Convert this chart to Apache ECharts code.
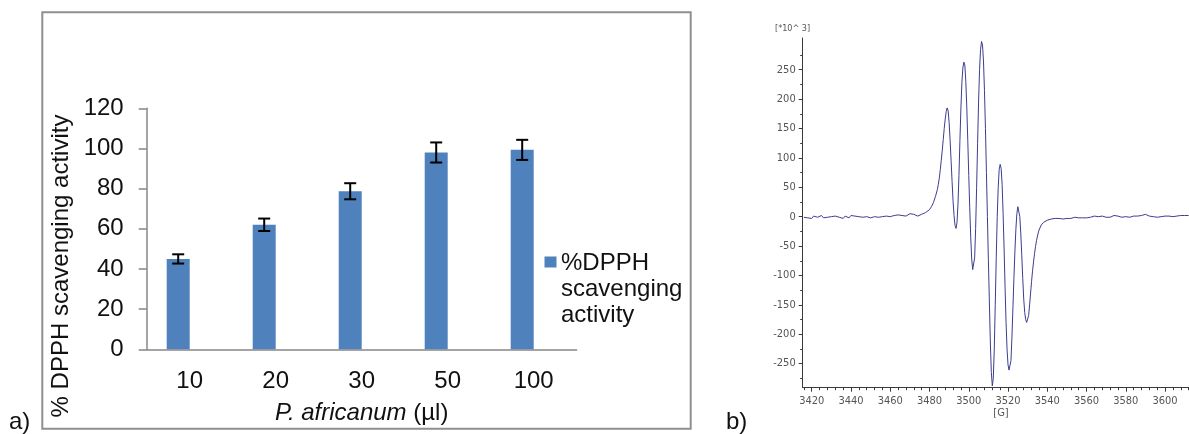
<!DOCTYPE html>
<html>
<head>
<meta charset="utf-8">
<script src="https://cdn.jsdelivr.net/npm/echarts@6/dist/echarts.min.js"></script>
<style>
  html, body { margin: 0; padding: 0; background: #fff; }
  #chart { width: 1189px; height: 434px; }
</style>
</head>
<body>
<div id="chart"></div>
<script>
// ---- Panel a: DPPH radical scavenging by P. africanum extract ----
const doses = ['10', '20', '30', '50', '100'];
const scavenging = [45, 62, 78.7, 98, 99.3];
const scavengingErr = [2.3, 3.1, 4, 5, 5];
const seriesName = '%DPPH scavenging activity';

// ---- Panel b: EPR spectrum (field in G, intensity in 10^3 units) ----
const lowFieldStart = 3416;   // 1 G steps
const lowFieldBaseline = [
  -1, 2, -2, 0, -3, 1, 2, -1, 0, 2,
  -2, 1, -1, 2, 0, -2, 1, 2, -1, 0,
  -3, 1, 0, -2, 2, -1, 1, -2, 0, 2,
  -1, -3, 0, 1, -2, -1, 0, 2, -1, 1,
  0, -2, 1, 3, 0, -1, 2, 1, 3, 0,
  2, 4, 1, 3, 5, 2, 4, 3, 1, 4
];
const spectrumField = [
  3476, 3477, 3478, 3479, 3480, 3481, 3482, 3483, 3484, 3484.5,
  3485, 3485.5, 3486, 3486.5, 3487, 3487.5, 3488, 3488.5, 3489, 3489.5,
  3490, 3490.5, 3491, 3491.5, 3492, 3492.5, 3493, 3493.5, 3494, 3494.5,
  3495, 3495.5, 3496, 3496.5, 3497, 3497.5, 3498, 3498.5, 3499, 3499.5,
  3500, 3500.5, 3501, 3501.5, 3502, 3502.5, 3503, 3503.5, 3504, 3504.5,
  3505, 3505.5, 3506, 3506.5, 3507, 3507.5, 3508, 3508.5, 3509, 3509.5,
  3510, 3510.5, 3511, 3511.5, 3512, 3512.5, 3513, 3513.5, 3514, 3514.5,
  3515, 3515.5, 3516, 3516.5, 3517, 3517.5, 3518, 3518.5, 3519, 3519.5,
  3520, 3520.5, 3521, 3521.5, 3522, 3522.5, 3523, 3523.5, 3524, 3524.5,
  3525, 3525.5, 3526, 3526.5, 3527, 3527.5, 3528, 3528.5, 3529, 3529.5,
  3530, 3530.5, 3531, 3531.5, 3532, 3532.5, 3533, 3533.5, 3534, 3534.5,
  3535, 3535.5, 3536, 3537, 3538, 3539, 3540, 3541, 3542, 3543,
  3544, 3545
];
const spectrumSignal = [
  4, 5, 7, 9, 12, 17, 24, 34, 46, 55,
  66, 80, 96, 113, 131, 150, 166, 179, 185, 180,
  160, 130, 95, 60, 27, 2, -15, -20, -10, 20,
  70, 130, 185, 228, 253, 263, 258, 230, 185, 130,
  70, 15, -35, -72, -90, -92, -70, -20, 50, 125,
  195, 250, 284, 298, 292, 265, 215, 150, 75, 0,
  -75, -145, -215, -265, -288, -275, -225, -150, -70, 0,
  50, 80, 89, 82, 55, 5, -55, -120, -180, -225,
  -252, -261, -261, -245, -205, -155, -105, -60, -22, 5,
  17, 16, 0, -28, -65, -105, -140, -163, -175, -180,
  -178, -168, -150, -130, -110, -92, -77, -63, -51, -41,
  -33, -26, -21, -14, -10, -8, -6, -5, -4, -3,
  -3, -2
];
const highFieldStart = 3546;  // 1 G steps
const highFieldBaseline = [
  -3, -2, -4, -2, -3, -1, -3, -2, -1, -3,
  -2, 0, -2, -1, -2, 0, -1, -2, 1, -1,
  0, -2, 1, 0, -1, 1, -1, 0, 2, -1,
  1, 0, -1, 1, 0, 2, -1, 0, 1, -1,
  1, 0, 2, 0, 4, 3, 1, 2, 0, 2,
  -1, 1, 0, 2, 1, -1, 1, 2, 0, 2,
  1, 3, 2, 1, 2, 3, 2
];
const fieldLabels = [3420, 3440, 3460, 3480, 3500, 3520, 3540, 3560, 3580, 3600];
const intensityLabels = [-250, -200, -150, -100, -50, 0, 50, 100, 150, 200, 250];

// Assemble the spectrum as [field, intensity] pairs
const spectrum = [];
lowFieldBaseline.forEach((v, i) => spectrum.push([lowFieldStart + i, v]));
spectrumField.forEach((g, i) => spectrum.push([g, spectrumSignal[i]]));
highFieldBaseline.forEach((v, i) => spectrum.push([highFieldStart + i, v]));

// Minor tick positions for the EPR axes
const fieldMinor = [];
for (let g = 3416; g <= 3612; g += 4) if (!fieldLabels.includes(g)) fieldMinor.push(g);
const intensityMinor = [];
for (let v = -275; v <= 300; v += 50) intensityMinor.push(v);

const FONT = "'Liberation Sans', Arial, sans-serif";
const NARROW = "'Liberation Sans Narrow', 'DejaVu Sans Condensed', 'Liberation Sans', sans-serif";
const BAR_W = 23;
const AXIS_GREY = '#878787';
const EPR_AXIS = '#3a3a3a';
const plain = v => String(v);

const chart = echarts.init(document.getElementById('chart'), null, { renderer: 'canvas' });

chart.setOption({
  animation: false,
  backgroundColor: '#fff',
  grid: [
    { left: 146.7, top: 108.3, width: 430, height: 241 },
    { left: 802.7, top: 38, right: 0, height: 349.7 }
  ],
  xAxis: [
    {
      gridIndex: 0, type: 'category', data: doses,
      axisLine: { lineStyle: { color: AXIS_GREY, width: 1.5 } },
      axisTick: { show: false },
      axisLabel: { fontFamily: FONT, fontSize: 24, color: '#111', margin: 20 },
      name: '{i|P. africanum} (µl)',
      nameLocation: 'middle', nameGap: 52,
      nameTextStyle: {
        fontFamily: FONT, fontSize: 24, color: '#111',
        rich: { i: { fontFamily: FONT, fontSize: 24, fontStyle: 'italic', color: '#111' } }
      }
    },
    {
      gridIndex: 1, type: 'value', min: 3415.4, max: 3612.2,
      axisLine: { onZero: false, lineStyle: { color: EPR_AXIS, width: 1 } },
      axisTick: { customValues: fieldLabels, length: 4, lineStyle: { color: EPR_AXIS } },
      axisLabel: { customValues: fieldLabels, formatter: plain, fontFamily: NARROW, fontSize: 11, color: '#555', margin: 8 },
      splitLine: { show: false }
    },
    {
      gridIndex: 1, type: 'value', min: 3415.4, max: 3612.2, position: 'bottom',
      axisLine: { show: false, onZero: false },
      axisTick: { customValues: fieldMinor, length: 2.5, lineStyle: { color: EPR_AXIS } },
      axisLabel: { show: false },
      splitLine: { show: false }
    }
  ],
  yAxis: [
    {
      gridIndex: 0, type: 'value', min: 0, max: 120, interval: 20,
      axisLine: { show: true, lineStyle: { color: AXIS_GREY, width: 1.5 } },
      axisTick: { show: true, length: 8, lineStyle: { color: AXIS_GREY, width: 1.5 } },
      axisLabel: { fontFamily: FONT, fontSize: 24, color: '#111', margin: 23 },
      splitLine: { show: false }
    },
    {
      gridIndex: 1, type: 'value', min: -291, max: 304,
      axisLine: { show: true, onZero: false, lineStyle: { color: EPR_AXIS, width: 1 } },
      axisTick: { show: true, customValues: intensityLabels, length: 4, lineStyle: { color: EPR_AXIS } },
      axisLabel: { customValues: intensityLabels, formatter: plain, fontFamily: NARROW, fontSize: 11, color: '#555', margin: 7 },
      splitLine: { show: false }
    },
    {
      gridIndex: 1, type: 'value', min: -291, max: 304, position: 'left',
      axisLine: { show: false, onZero: false },
      axisTick: { show: true, customValues: intensityMinor, length: 2.5, lineStyle: { color: EPR_AXIS } },
      axisLabel: { show: false },
      splitLine: { show: false }
    }
  ],
  series: [
    {
      name: seriesName, type: 'bar', xAxisIndex: 0, yAxisIndex: 0,
      data: scavenging, barWidth: BAR_W, barGap: '0%',
      itemStyle: { color: '#4F81BD' }
    },
    {
      // empty companion series: keeps the bars shifted left of each category centre
      name: 'spacer', type: 'bar', xAxisIndex: 0, yAxisIndex: 0,
      data: [], barWidth: BAR_W, silent: true
    },
    {
      name: 'error', type: 'custom', xAxisIndex: 0, yAxisIndex: 0,
      data: scavenging.map((v, i) => [i, v, scavengingErr[i]]),
      renderItem: (params, api) => {
        const i = api.value(0), v = api.value(1), e = api.value(2);
        const hi = api.coord([i, v + e]);
        const lo = api.coord([i, v - e]);
        const x = hi[0] - BAR_W / 2;
        const cap = 6;
        const style = { stroke: '#000', lineWidth: 2 };
        return {
          type: 'group',
          children: [
            { type: 'line', shape: { x1: x, y1: hi[1], x2: x, y2: lo[1] }, style },
            { type: 'line', shape: { x1: x - cap, y1: hi[1], x2: x + cap, y2: hi[1] }, style },
            { type: 'line', shape: { x1: x - cap, y1: lo[1], x2: x + cap, y2: lo[1] }, style }
          ]
        };
      },
      z: 5
    },
    {
      name: 'EPR', type: 'line', xAxisIndex: 1, yAxisIndex: 1,
      data: spectrum, showSymbol: false, symbol: 'none',
      lineStyle: { color: '#3d3d8f', width: 1 }
    }
  ],
  graphic: [
    // frame around panel a
    { type: 'rect', shape: { x: 42.3, y: 12.3, width: 648.4, height: 416.4 },
      style: { fill: 'none', stroke: '#8f8f8f', lineWidth: 2 }, silent: true },
    // y-axis title of panel a
    { type: 'text', x: 61, y: 266, rotation: Math.PI / 2,
      style: { text: '% DPPH scavenging activity', font: "24px " + FONT, fill: '#111',
               align: 'center', verticalAlign: 'middle' } },
    // legend of panel a
    { type: 'rect', shape: { x: 544.5, y: 256.5, width: 12, height: 11 },
      style: { fill: '#4F81BD' } },
    { type: 'text', x: 561, y: 250.5,
      style: { text: '%DPPH\nscavenging\nactivity', font: "24px " + FONT, fill: '#111',
               lineHeight: 26, align: 'left', verticalAlign: 'top' } },
    // panel letters
    { type: 'text', x: 9, y: 422,
      style: { text: 'a)', font: "24px " + FONT, fill: '#111', verticalAlign: 'middle' } },
    { type: 'text', x: 726, y: 422,
      style: { text: 'b)', font: "24px " + FONT, fill: '#111', verticalAlign: 'middle' } },
    // EPR axis units
    { type: 'text', x: 775, y: 29,
      style: { text: '[*10^ 3]', font: "9px " + NARROW, fill: '#555', verticalAlign: 'middle' } },
    { type: 'text', x: 1001, y: 413,
      style: { text: '[G]', font: "11px " + NARROW, fill: '#555', align: 'center', verticalAlign: 'middle' } }
  ]
});
</script>
</body>
</html>
